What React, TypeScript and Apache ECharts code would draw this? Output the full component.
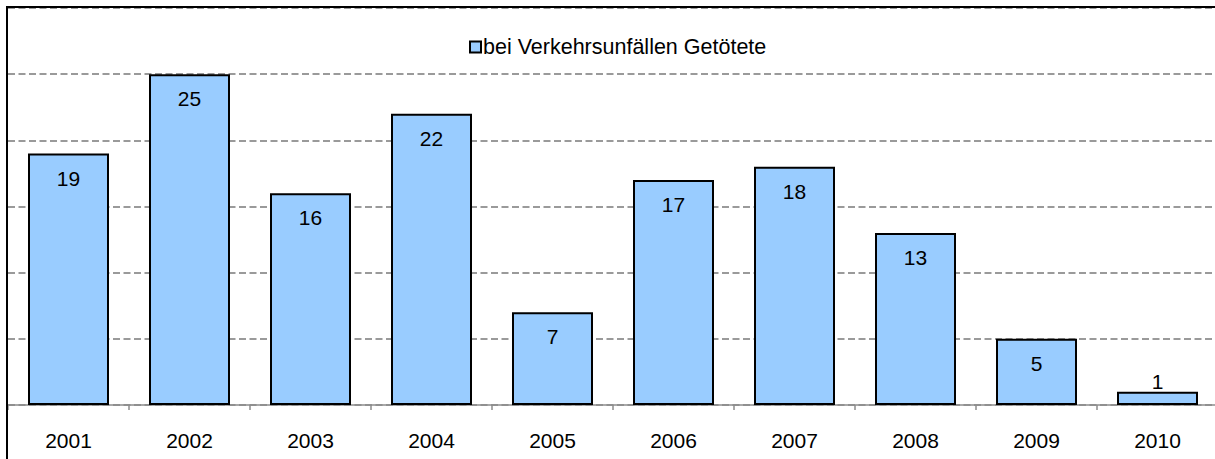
import React, { useEffect, useRef } from "react";
import * as echarts from "echarts";

const categories = ["2001", "2002", "2003", "2004", "2005", "2006", "2007", "2008", "2009", "2010"];
const values = [19, 25, 16, 22, 7, 17, 18, 13, 5, 1];
const seriesName = "bei Verkehrsunfällen Getötete";
const FONT = "Arial, 'Liberation Sans', sans-serif";

export default function App() {
  const ref = useRef<HTMLDivElement>(null);
  useEffect(() => {
    document.documentElement.style.overflow = "hidden";
    document.body.style.overflow = "hidden";
    if (!ref.current) return;
    const chart = echarts.init(ref.current, undefined, { renderer: "svg" });
    chart.setOption({
      animation: false,
      backgroundColor: "#ffffff",
      textStyle: { fontFamily: FONT },
      legend: {
        show: true,
        left: 469,
        top: 36,
        padding: 0,
        icon: "rect",
        itemWidth: 11,
        itemHeight: 11,
        itemGap: 5,
        textStyle: { fontSize: 21.5, color: "#000", fontFamily: FONT, padding: [0, 0, 0, -3] },
        data: [seriesName],
      },
      grid: { left: 8, top: 8, width: 1210, height: 397, containLabel: false },
      xAxis: {
        type: "category",
        data: categories,
        axisLine: { show: true, lineStyle: { color: "#8c8c8c", width: 1.5 } },
        axisTick: { show: true, length: 5, lineStyle: { color: "#8c8c8c", width: 1.5 } },
        axisLabel: { margin: 25, fontSize: 21, color: "#000", fontFamily: FONT },
        splitLine: { show: false },
      },
      yAxis: {
        type: "value",
        min: 0,
        max: 30,
        interval: 5,
        axisLine: { show: false },
        axisTick: { show: false },
        axisLabel: { show: false },
        splitLine: { show: true, lineStyle: { color: "#9a9a9a", width: 2, type: [7, 3.5] } },
      },
      series: [
        {
          name: seriesName,
          type: "bar",
          barWidth: 81,
          data: values.map((v) =>
            v < 3
              ? { value: v, label: { position: "top", distance: 0 } }
              : { value: v }
          ),
          itemStyle: { color: "#99ccff", borderColor: "#000", borderWidth: 2 },
          label: {
            show: true,
            position: "insideTop",
            distance: 14,
            fontSize: 21,
            color: "#000",
            fontFamily: FONT,
          },
        },
      ],
      graphic: [
        {
          type: "line",
          z: 100,
          silent: true,
          shape: { x1: 7, y1: 7, x2: 1250, y2: 7 },
          style: { stroke: "#000", lineWidth: 2 },
        },
        {
          type: "line",
          z: 100,
          silent: true,
          shape: { x1: 7, y1: 6, x2: 7, y2: 480 },
          style: { stroke: "#000", lineWidth: 2 },
        },
      ],
    });
    return () => chart.dispose();
  }, []);
  return (
    <div style={{ position: "fixed", left: 0, top: 0, width: 1215, height: 459, overflow: "hidden", background: "#fff" }}>
      <div ref={ref} style={{ width: 1250, height: 480 }} />
    </div>
  );
}
